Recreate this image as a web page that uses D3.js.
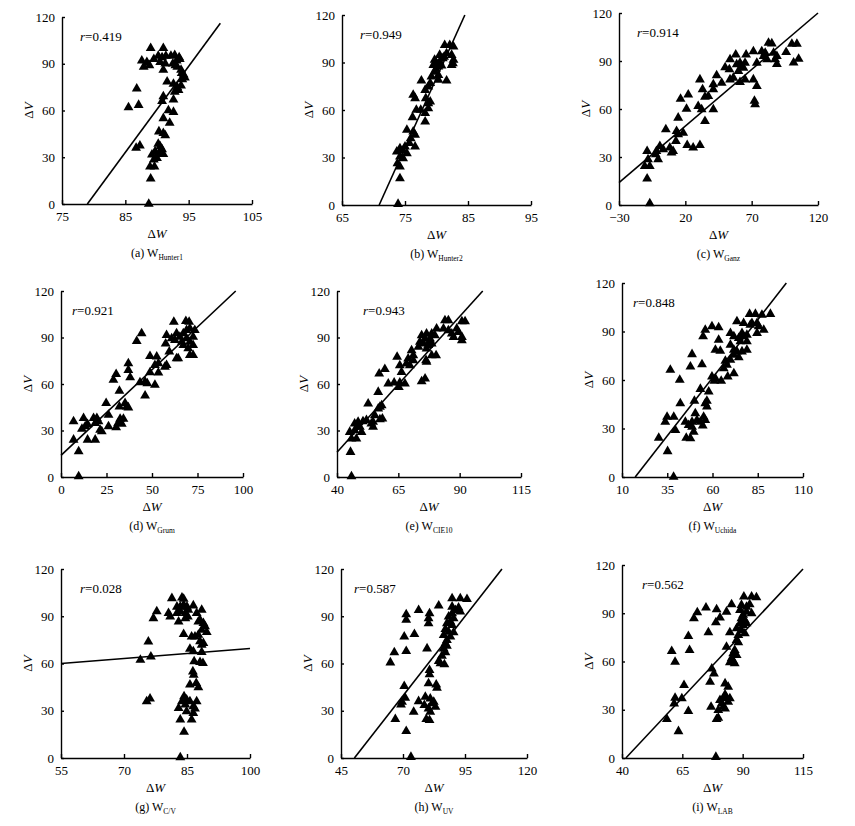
<!DOCTYPE html>
<html>
<head>
<meta charset="utf-8">
<script src="https://cdn.jsdelivr.net/npm/d3@7"></script>
<style>
body { margin: 0; background: #fff; }
svg text { font-family: "Liberation Serif", "Times New Roman", Times, serif !important; fill: #000; }
.axis path, .axis line { stroke: #000; stroke-width: 1.4; }
.axis text { font-size: 13px; }
</style>
</head>
<body>
<svg width="855" height="826" font-family="Liberation Serif"></svg>
<script>
// panel names, subscripts and r values
var panelTags = ["(a)", "(b)", "(c)", "(d)", "(e)", "(f)", "(g)", "(h)", "(i)"];
var subNames = ["Hunter1", "Hunter2", "Ganz", "Grum", "CIE10", "Uchida", "C/V", "UV", "LAB"];
var rValues = ["0.419", "0.949", "0.914", "0.921", "0.943", "0.848", "0.028", "0.587", "0.562"];

var yTicks = [0, 30, 60, 90, 120];
var xTicks = [
  [75, 85, 95, 105], [65, 75, 85, 95], [-30, 20, 70, 120],
  [0, 25, 50, 75, 100], [40, 65, 90, 115], [10, 35, 60, 85, 110],
  [55, 70, 85, 100], [45, 70, 95, 120], [40, 65, 90, 115]
];

// regression lines, two end points in data units
var fitLines = [
  [[79, 0], [100, 116]], [[70.9, 0], [84.5, 120]], [[-30, 14], [120, 120]],
  [[0, 14], [96, 120]], [[40, 16], [99.4, 120]], [[17.3, 0], [100.8, 120]],
  [[55, 60], [100, 69.5]], [[50.4, 0], [109.9, 120]], [[41.6, 0], [115, 117.5]]
];

var pointsA = [[89,100],[91,100],[89.5,93],[90.2,95],[90.8,94],[91.4,95],[92.2,95],[92.8,95.5],[93.5,94],[90.5,91],[91.3,90],[92.5,90],
  [93.1,92],[93.6,93],[87.6,92],[88.4,91],[87.9,88],[88.8,89],[91,86],[93.2,88],[93.8,86],[94.2,83],[94,80],[91.6,78.5],[92.6,77],
  [93.2,75],[93.4,73],[92.8,72],[93.8,76],[86.8,74],[85.5,62],[87.1,63.5],[91,69],[90.8,66],[92.6,67],[91.8,60],[92.6,59],[91,55],
  [92,52],[90.3,46.5],[91,45.5],[91.3,44],[86.7,36],[87.3,37.5],[90.2,38.6],[90.5,37],[90.8,35],[89.7,33.7],[90.3,32.6],[89.2,31.6],
  [91,32],[90,29.4],[89.5,28.4],[88.9,24],[89.6,24],[89,16.2],[88.7,0],[94.4,81],[93.9,84],[92.9,89]];

var pointsB = [[81.3,101],[82.1,101],[82.7,100],[80.5,94.7],[81.6,95.8],[82.4,94.7],[82.6,89.5],[82.4,88.4],[82.7,91.6],[79.7,91.6],
  [80,89.5],[79.5,88.4],[80.3,87.4],[80.5,90.5],[81,92.6],[79.7,84],[80.3,82],[79.2,81],[80.3,79],[81.6,78.5],[77.6,78.5],[78.2,72.6],
  [78.7,74.7],[79,77],[76.3,69.5],[76.6,67.4],[78.3,67.4],[78.7,64.2],[79,65.3],[76.8,60],[77.5,60],[78.7,61],[78.2,58],[78.2,52.6],
  [76.2,55.4],[75.3,47.4],[76.3,46.3],[76.6,44.2],[75.9,42],[75.7,39],[75,36.8],[74.2,35.8],[74.7,34.3],[75.3,32.6],[76.6,36.8],
  [73.7,33.7],[74.2,30.5],[74.7,29.5],[73.8,26.3],[74.2,24.2],[74.2,16.8],[73.9,0.6],[81.2,93.5],[79.9,86],[80.8,88]];

var pointsC = [[82.7,101.3],[85.2,100.9],[100.3,100.7],[104.1,100.7],[77.6,96],[80.2,95],[86.5,95],[96,95.5],[71.3,96],[65.8,94],
  [58,94],[53.7,91],[89,93],[87.7,91],[89,88],[101.6,89],[105.4,91.3],[79,93],[81.6,91],[50,86],[53.2,84.7],[58.7,87.8],[61.2,88.8],
  [62.5,86.7],[63.8,85.7],[60,83.6],[65,88.8],[61.2,76.7],[65,78.4],[53.7,78.4],[56.2,79.5],[43.6,81],[47.4,76.3],[41.1,75.3],
  [41.1,72.2],[71.3,78.4],[73.9,74.3],[73.9,88.8],[72.1,65],[72.6,62.8],[31,78.4],[33,72.2],[34.8,67.6],[37.3,68],[41.1,59.7],
  [29.7,61.8],[32.3,59.7],[34.8,52.4],[16.4,66.3],[22.2,69],[20.9,60.1],[14.6,54.5],[5.3,47.2],[13.4,46.2],[14.6,44.1],[18.4,45.1],
  [12.9,39.9],[21.4,37.4],[25.9,35.8],[31,37.4],[0.8,36.8],[3.3,34.7],[8.3,35.8],[9.6,32.7],[-1.8,33.7],[-2.3,31.6],[-0.5,28.5],
  [-8.1,28.5],[-8.8,33.7],[-10.6,24.3],[-6.8,24.3],[-8.8,16.4],[-6.8,1],[10.8,33.7]];

var pointsD = [[62,100],[68.6,100.5],[70.4,100],[44.3,92.6],[41.6,87.6],[58,91.5],[57.5,86],[63.5,92.6],[65.3,90.4],[67.2,92.6],
  [69,94.7],[70.8,95.8],[73.5,94.7],[72.6,90.4],[69,89.4],[66.4,87.2],[62.6,88.3],[60.8,89.4],[67.2,85],[70.8,87.2],[72.6,85],
  [69.9,83],[72.6,78.6],[70.8,78.6],[59.5,80.8],[58,72.2],[57.1,71],[63.5,76.5],[64.4,76.5],[52.6,77.6],[48.9,78],[53.5,73.3],
  [51.6,72.2],[53.5,67.3],[48.9,67.5],[37,73.3],[37,69],[38,64.3],[30.3,66.4],[28.8,62.6],[43.4,61],[46.2,61.5],[47.4,60.4],
  [51.6,59.4],[46.2,52.5],[32.1,55.5],[24.8,47.6],[35.2,47.6],[36.1,45.4],[37,44.8],[32.1,45.4],[26.1,40],[32.5,37.5],[34.3,37.5],
  [31.4,34.7],[33.4,34.3],[30.3,32],[26.1,32.6],[21.5,30.4],[12.4,37.9],[17.9,37.9],[19.7,37.9],[20.6,35.8],[18.8,34.7],[14.6,34],
  [13.3,32.6],[11.5,31],[6.9,35.8],[6.9,24],[14.6,24],[18.8,24],[22.4,29.4],[9.7,16.5],[9.7,0.4]];

var pointsE = [[84,101],[85.4,101],[90.9,100.4],[92.2,100.4],[80.6,95.7],[83.4,95.7],[85.4,94.6],[88.8,95.7],[89.5,93.5],[86.8,92.5],
  [87.5,90.3],[90.9,90.3],[90.9,88.2],[74.5,91.4],[76.5,92.5],[78.6,92.5],[79.9,91.4],[75.9,89.2],[77.9,89.2],[73.8,87.1],[75.2,86],
  [77.2,85],[78.6,86],[73.2,83.9],[76.5,82.8],[77.9,88.2],[80.4,78.5],[78.6,78.5],[76.3,75.3],[76.5,74.2],[70.4,81.7],[71.1,78.5],
  [69,76.3],[71.1,75.3],[68.3,73.1],[69.7,72],[64.5,77.4],[65.6,72],[66.3,67.7],[67.7,60.2],[65.6,60.9],[65.2,58],[63.3,60.9],
  [60.9,60.2],[59.5,69.5],[57.2,66.7],[75.9,63.4],[74.5,61.7],[56.8,54.8],[52.7,47.3],[57.5,45.2],[58.2,46.2],[56.8,44.1],[58.5,37.6],
  [57.5,37.2],[55.4,39.8],[54.7,35.5],[54,34.4],[52,36.6],[50.6,35.9],[48.6,35.5],[47.2,34.4],[49.3,32.3],[47.2,30.1],[50,29],
  [48.6,32.3],[54.7,32.3],[45.2,29],[45.9,24.7],[47.9,24.7],[45.5,16.1],[45.9,0.4]];

var pointsF = [[80.5,100.8],[83.7,100.8],[87.3,100.3],[92,100.8],[73.5,96.2],[77.2,95.2],[80.9,94.1],[84.6,95.2],[85.5,93.1],[88.3,91],
  [84.6,89],[81.8,95.2],[59.7,93.1],[63.4,92.5],[56,91],[54.8,86.9],[63.4,84.8],[61.6,78.6],[64.3,78],[48.7,75.9],[47.8,68.3],
  [54.2,69.7],[69.9,89],[71.8,86.9],[74.5,85.9],[76.3,89],[77.2,86.9],[79,87.9],[75.4,83.8],[79,83.8],[69.9,81.7],[71.8,78.6],
  [73.5,77.6],[76.3,77.6],[79,78.6],[71.8,75.5],[74.5,73.9],[69.9,72.4],[67.1,71.8],[68,69.3],[66.2,67.2],[71.8,64.1],[68.4,62.1],
  [64.8,59.4],[61.6,61],[59.7,62.1],[61,59.4],[36.7,66.2],[41.9,60],[57.9,52.8],[53.3,54.4],[56,45.5],[56.9,47],[42.2,45.5],[50,47],
  [56.9,43.5],[34.9,37.2],[38.6,37.2],[33.9,34.1],[39.5,29],[45,34.1],[46.8,32.1],[48.7,34.1],[50.5,39.3],[51.4,35.2],[48.7,31],
  [53.3,34.1],[55.1,37.2],[56,35.2],[54.6,31.7],[49.6,27.9],[30.3,24.2],[45.5,24.2],[47.8,23.8],[35.2,15.9],[38.5,0]];

var pointsG = [[81.4,101.4],[83.8,101.8],[84.2,101],[82.6,96],[83.4,96],[84.2,97.2],[85,96],[86.5,96.8],[85.3,94],[83.4,93],[82.6,91.9],
  [84.6,91.9],[87.3,91.9],[88.5,94],[77.8,93],[80.6,91.9],[81,89.8],[77,88.7],[84.6,88.7],[85.2,89.8],[83,86.6],[87.7,86.6],[88.1,87.7],
  [88.9,85.6],[89.3,83.5],[89.7,79.9],[88.5,81.3],[87.7,78.2],[86.9,77.1],[86.1,77.1],[84.2,78.6],[88.1,74],[88.9,72.9],[88.5,71.8],
  [85.7,69.3],[86.5,67.6],[88.5,67.2],[86.7,61.3],[88.1,60.9],[88.8,60.2],[75.8,73.9],[76.4,64.4],[73.9,62.3],[86.4,54.9],[86.6,52.8],
  [85.7,46.5],[87.2,47.5],[87.7,44.8],[75.4,35.9],[76.2,37.6],[84.3,39.1],[84.9,37],[83.8,35.9],[84.6,33.8],[85.7,35.9],[86.5,32.7],
  [87.3,35.9],[86.9,31.3],[83,31.7],[84.9,29.6],[86.5,28.5],[83.4,24.3],[86.1,24.3],[84.3,16.5],[83.4,0.4]];

var pointsH = [[89.8,101.3],[93.1,101.3],[95.8,100.9],[84.4,96.7],[89.8,96],[91.1,93.9],[92.4,95.4],[93.1,92.9],[89.8,91.8],[88.4,89.7],
  [90.4,88.6],[89.1,86.5],[87.7,85.4],[89.8,84.4],[87.1,81.8],[88.4,80.1],[90.4,79.7],[86.4,78],[89.1,77],[87.7,74.8],[87.1,72.7],
  [87.7,71.2],[86.4,69.5],[87.1,67],[85.7,64.9],[84.4,61.5],[85.1,60],[86.7,59.4],[76.3,93.9],[80.3,88.6],[80.7,91.8],[80.3,85.4],
  [71.3,91.2],[71.3,87.6],[74.6,78.6],[70.5,77],[71.3,67.8],[66.5,67],[64.9,60.6],[79.7,69.5],[80.7,55.8],[80.7,53],[80.3,47.3],
  [83.4,46.6],[83.7,44.5],[70.5,45.6],[70.9,38.2],[69.6,35.6],[69.2,33.9],[76.3,36],[79,38.8],[78.6,33.5],[81,37.7],[81.7,34.6],
  [82.4,35.6],[83.1,32.4],[80.3,31.4],[81,29.3],[74.3,29.3],[66.9,24.6],[79.4,24.6],[80.7,24],[71.3,17],[73.2,0.6]];

var pointsI = [[90.5,100.3],[93.7,100.3],[95.7,99.9],[74.8,93.4],[79.2,92.4],[85.4,95.5],[83.3,90.9],[80.6,87.2],[78.9,84.3],[71.2,90.5],
  [69.8,86.8],[75.8,78.1],[67.5,75.8],[68,67.1],[60.6,66.4],[62,59.8],[89.5,95.1],[91.6,94],[92.9,95.5],[88.9,92],[91.6,90.9],
  [93.7,89.9],[90.2,88.9],[89.5,86.8],[90.9,85.7],[88.9,83.7],[90.2,82.6],[91.6,83.7],[87.5,80.5],[89.5,79.5],[90.9,77.4],[84.7,78.1],
  [88.2,76.4],[87.5,73.3],[88.2,71.8],[83.3,69.1],[86.7,67],[86.1,65],[87.5,63.9],[85.4,61.9],[86.1,60.2],[84.7,59.4],[86.7,58.8],
  [77.2,55.6],[78.1,52.5],[76.5,47.3],[82.7,46.3],[84,44.2],[65.7,45.3],[62,37.4],[64.8,37],[61.6,33.8],[76.9,31.8],[67.5,29.1],
  [80.6,35.9],[82,37],[82.7,39.4],[83.3,37.4],[84,34.9],[81.3,33.8],[82,31.8],[82.7,30.7],[79.9,29.7],[84.7,37],[58.6,24.1],
  [79.2,24.1],[79.9,24.9],[63.4,16.6],[78.9,0.6]];

var allPoints = [pointsA, pointsB, pointsC, pointsD, pointsE, pointsF, pointsG, pointsH, pointsI];

// plot boxes in px: left, right, top, bottom
var boxes = [
  [62, 252, 17, 204], [342, 531, 15, 205], [619, 818, 13, 205],
  [61, 243, 291, 477], [337, 521, 291, 477], [622, 803, 283, 477],
  [61, 250, 569, 758], [341, 527, 569, 758], [622, 803, 565, 758]
];
var rOffset = [18, 18, 18, 11, 26, 11, 19, 13, 20];

var svg = d3.select("svg");

allPoints.forEach(function(pts, i) {
  var b = boxes[i];
  var xt = xTicks[i];
  var x = d3.scaleLinear().domain([xt[0], xt[xt.length - 1]]).range([b[0], b[1]]);
  var y = d3.scaleLinear().domain([0, 120]).range([b[3], b[2]]);
  var g = svg.append("g").attr("class", "panel");

  g.append("g")
    .attr("class", "axis")
    .attr("transform", "translate(0," + b[3] + ")")
    .call(d3.axisBottom(x).tickValues(xt).tickSizeInner(-4).tickSizeOuter(0).tickPadding(8)
      .tickFormat(function(d) { return d < 0 ? "\u2212" + (-d) : d; }));

  g.append("g")
    .attr("class", "axis")
    .attr("transform", "translate(" + b[0] + ",0)")
    .call(d3.axisLeft(y).tickValues(yTicks).tickSizeInner(-3).tickSizeOuter(0).tickPadding(7));

  var fl = fitLines[i];
  g.append("line")
    .attr("x1", x(fl[0][0])).attr("y1", y(fl[0][1]))
    .attr("x2", x(fl[1][0])).attr("y2", y(fl[1][1]))
    .attr("stroke", "#000").attr("stroke-width", 1.6);

  var tri = d3.symbol().type(d3.symbolTriangle).size(42);
  g.selectAll("path.pt")
    .data(pts)
    .enter().append("path")
      .attr("class", "pt")
      .attr("d", tri)
      .attr("transform", function(d) { return "translate(" + [x(d[0]), y(d[1])] + ")"; })
      .attr("fill", "#000");

  var rt = g.append("text")
    .attr("x", b[0] + rOffset[i])
    .attr("y", b[2] + 24)
    .attr("font-size", 13);
  rt.append("tspan").attr("font-style", "italic").text("r");
  rt.append("tspan").text("=" + rValues[i]);

  var mid = (b[0] + b[1]) / 2;
  var xl = g.append("text")
    .attr("x", mid).attr("y", b[3] + 34)
    .attr("text-anchor", "middle").attr("font-size", 13);
  xl.append("tspan").text("\u0394");
  xl.append("tspan").attr("font-style", "italic").text("W");

  var yl = g.append("text")
    .attr("transform", "translate(" + (b[0] - 29) + "," + ((b[2] + b[3]) / 2) + ") rotate(-90)")
    .attr("text-anchor", "middle").attr("font-size", 13);
  yl.append("tspan").text("\u0394");
  yl.append("tspan").attr("font-style", "italic").text("V");

  var cap = g.append("text")
    .attr("x", mid).attr("y", b[3] + 53)
    .attr("text-anchor", "middle").attr("font-size", 12);
  cap.append("tspan").text(panelTags[i] + " W");
  cap.append("tspan").attr("font-size", 7.5).attr("dy", 3).text(subNames[i]);
});
</script>
</body>
</html>
